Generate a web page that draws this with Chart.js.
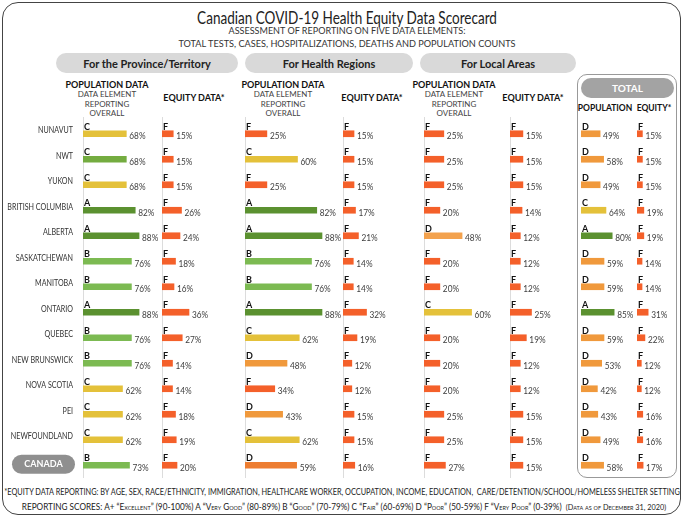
<!DOCTYPE html>
<html>
<head>
<meta charset="utf-8">
<script src="https://cdn.jsdelivr.net/npm/chart.js@4.4.1/dist/chart.umd.min.js"></script>
<style>
  body { margin:0; width:683px; height:518px; background:#fff; position:relative; overflow:hidden;
         font-family: Lato, "Open Sans", sans-serif; color:#222; }
  .a { position:absolute; white-space:nowrap; line-height:1; }
  .ctr { transform: translateX(-50%); transform-origin:center; }
  .frame { position:absolute; left:2px; top:2px; width:677px; height:511px; border:1.5px solid #444; border-radius:16px; }
  .pill { position:absolute; background:#d9d9d9; border-radius:10px; font-weight:bold; font-size:11px;
          display:flex; align-items:center; justify-content:center; color:#222; }
  .h1 { font-weight:bold; font-size:9px; color:#111; }
  .h2 { font-size:8px; color:#444; }
  .totbox { position:absolute; left:577px; top:74px; width:98px; height:402px; border:1px solid #999; border-radius:10px; }
  .totpill { position:absolute; left:581px; top:78px; width:93px; height:20px; background:#a3a3a3; border-radius:10px;
             color:#fff; font-weight:bold; font-size:10px; display:flex; align-items:center; justify-content:center; }
  canvas { position:absolute; top:110px; }
</style>
</head>
<body>
<div class="frame"></div>

<div class="a ctr fit" data-w="300" style="left:347px;top:8px;font-size:18px;color:#222">Canadian COVID-19 Health Equity Data Scorecard</div>
<div class="a ctr fit" data-w="237" style="left:347px;top:26px;font-size:9.5px;color:#333">ASSESSMENT OF REPORTING ON FIVE DATA ELEMENTS:</div>
<div class="a ctr fit" data-w="337" style="left:347px;top:39px;font-size:9.5px;color:#333">TOTAL TESTS, CASES, HOSPITALIZATIONS, DEATHS AND POPULATION COUNTS</div>

<div class="pill" style="left:56px;top:53px;width:182px;height:20px">For the Province/Territory</div>
<div class="pill" style="left:245px;top:53px;width:168px;height:20px">For Health Regions</div>
<div class="pill" style="left:420px;top:53px;width:156px;height:20px">For Local Areas</div>

<div class="a ctr h1" style="left:107px;top:80px">POPULATION DATA</div>
<div class="a ctr h2" style="left:107px;top:90px">DATA ELEMENT</div>
<div class="a ctr h2" style="left:107px;top:99.5px">REPORTING</div>
<div class="a ctr h2" style="left:107px;top:109px">OVERALL</div>
<div class="a ctr h1" style="left:194px;top:93px">EQUITY DATA*</div>

<div class="a ctr h1" style="left:283px;top:80px">POPULATION DATA</div>
<div class="a ctr h2" style="left:283px;top:90px">DATA ELEMENT</div>
<div class="a ctr h2" style="left:283px;top:99.5px">REPORTING</div>
<div class="a ctr h2" style="left:283px;top:109px">OVERALL</div>
<div class="a ctr h1" style="left:372px;top:93px">EQUITY DATA*</div>

<div class="a ctr h1" style="left:454px;top:80px">POPULATION DATA</div>
<div class="a ctr h2" style="left:454px;top:90px">DATA ELEMENT</div>
<div class="a ctr h2" style="left:454px;top:99.5px">REPORTING</div>
<div class="a ctr h2" style="left:454px;top:109px">OVERALL</div>
<div class="a ctr h1" style="left:533px;top:93px">EQUITY DATA*</div>

<div class="totbox"></div>
<div class="totpill">TOTAL</div>
<div class="a ctr h1" style="left:605px;top:104px;font-size:8.5px">POPULATION</div>
<div class="a ctr h1" style="left:654px;top:104px;font-size:8.5px">EQUITY*</div>

<div class="a ctr fit" data-w="676" style="left:342px;top:487px;font-size:9px;color:#222">*EQUITY DATA REPORTING: BY AGE, SEX, RACE/ETHNICITY, IMMIGRATION, HEALTHCARE WORKER, OCCUPATION, INCOME, EDUCATION,&nbsp; CARE/DETENTION/SCHOOL/HOMELESS SHELTER SETTING</div>
<div class="a ctr fit" data-w="644" style="left:344px;top:502px;font-size:9px;color:#222;font-variant:small-caps">REPORTING SCORES: A+ “Excellent” (90-100%) A “Very Good” (80-89%) B “Good” (70-79%) C “Fair” (60-69%) D “Poor” (50-59%) F “Very Poor” (0-39%)&nbsp; <span style="font-size:8px">(Data as of December 31, 2020)</span></div>

<canvas id="c1" width="160" height="380" style="left:0px"></canvas>
<canvas id="c2" width="75" height="380" style="left:162px"></canvas>
<canvas id="c3" width="100" height="380" style="left:245px"></canvas>
<canvas id="c4" width="70" height="380" style="left:343px"></canvas>
<canvas id="c5" width="85" height="380" style="left:424px"></canvas>
<canvas id="c6" width="60" height="380" style="left:510px"></canvas>
<canvas id="c7" width="55" height="380" style="left:581px"></canvas>
<canvas id="c8" width="40" height="380" style="left:637px"></canvas>

<script>
const rows = ['NUNAVUT', 'NWT', 'YUKON', 'BRITISH COLUMBIA', 'ALBERTA', 'SASKATCHEWAN', 'MANITOBA',
  'ONTARIO', 'QUEBEC', 'NEW BRUNSWICK', 'NOVA SCOTIA', 'PEI', 'NEWFOUNDLAND', 'CANADA'];

// province / territory
const provPop      = [68, 68, 68, 82, 88, 76, 76, 88, 76, 76, 62, 62, 62, 73];
const provPopGrade = ['C', 'C', 'C', 'A', 'A', 'B', 'B', 'A', 'B', 'B', 'C', 'C', 'C', 'B'];
const provEq       = [15, 15, 15, 26, 24, 18, 16, 36, 27, 14, 14, 18, 19, 20];
const provEqGrade  = ['F', 'F', 'F', 'F', 'F', 'F', 'F', 'F', 'F', 'F', 'F', 'F', 'F', 'F'];

// health regions
const hrPop      = [25, 60, 25, 82, 88, 76, 76, 88, 62, 48, 34, 43, 62, 59];
const hrPopGrade = ['F', 'C', 'F', 'A', 'A', 'B', 'B', 'A', 'C', 'D', 'F', 'D', 'C', 'D'];
const hrEq       = [15, 15, 15, 17, 21, 14, 14, 32, 19, 12, 12, 15, 15, 16];
const hrEqGrade  = ['F', 'F', 'F', 'F', 'F', 'F', 'F', 'F', 'F', 'F', 'F', 'F', 'F', 'F'];

// local areas
const locPop      = [25, 25, 25, 20, 48, 20, 20, 60, 20, 20, 20, 25, 25, 27];
const locPopGrade = ['F', 'F', 'F', 'F', 'D', 'F', 'F', 'C', 'F', 'F', 'F', 'F', 'F', 'F'];
const locEq       = [15, 15, 15, 14, 12, 12, 12, 25, 19, 12, 12, 15, 15, 15];
const locEqGrade  = ['F', 'F', 'F', 'F', 'F', 'F', 'F', 'F', 'F', 'F', 'F', 'F', 'F', 'F'];

// total
const totPop      = [49, 58, 49, 64, 80, 59, 59, 85, 59, 53, 42, 43, 49, 58];
const totPopGrade = ['D', 'D', 'D', 'C', 'A', 'D', 'D', 'A', 'D', 'D', 'D', 'D', 'D', 'D'];
const totEq       = [15, 15, 15, 19, 19, 14, 14, 31, 22, 12, 12, 16, 16, 17];
const totEqGrade  = ['F', 'F', 'F', 'F', 'F', 'F', 'F', 'F', 'F', 'F', 'F', 'F', 'F', 'F'];

const gradeColors = { A: '#5b9130', B: '#7cba52', C: '#e4c13a', D: '#f0993c', F: '#f4602a' };

// px per percent for each column
const columns = [
  { id: 'c1', pad: 83, ppp: 0.637, values: provPop, grades: provPopGrade, rowLabels: true, line: true, fix: { 1: '#74ac40' } },
  { id: 'c2', pad: 0, ppp: 0.75, values: provEq, grades: provEqGrade, line: true },
  { id: 'c3', pad: 0, ppp: 0.875, values: hrPop, grades: hrPopGrade, line: true, fix: { 13: '#ed7d31' } },
  { id: 'c4', pad: 0, ppp: 0.735, values: hrEq, grades: hrEqGrade, line: true },
  { id: 'c5', pad: 0, ppp: 0.793, values: locPop, grades: locPopGrade, line: true, fix: { 4: '#f3a24e' } },
  { id: 'c6', pad: 0, ppp: 0.86, values: locEq, grades: locEqGrade, line: true },
  { id: 'c7', pad: 0, ppp: 0.39, values: totPop, grades: totPopGrade },
  { id: 'c8', pad: 0, ppp: 0.36, values: totEq, grades: totEqGrade },
];

// narrow text, the reference uses a condensed face
function squeezed(ctx, text, x, y, sx) {
  ctx.save();
  ctx.translate(x, y);
  ctx.scale(sx, 1);
  ctx.fillText(text, 0, 0);
  ctx.restore();
}

function marks(col) {
  return {
    id: 'marks',
    beforeDatasetsDraw(chart) {
      if (!col.line) return;
      const { ctx, chartArea } = chart;
      ctx.save();
      ctx.strokeStyle = '#dcdcdc';
      ctx.lineWidth = 1;
      ctx.beginPath();
      ctx.moveTo(chartArea.left + 0.5, chartArea.top - 4);
      ctx.lineTo(chartArea.left + 0.5, chartArea.bottom);
      ctx.stroke();
      ctx.restore();
    },
    afterDatasetsDraw(chart) {
      const ctx = chart.ctx;
      const bars = chart.getDatasetMeta(0).data;
      ctx.save();
      bars.forEach((b, i) => {
        ctx.textAlign = 'left';
        ctx.textBaseline = 'alphabetic';
        ctx.fillStyle = '#111';
        ctx.font = 'bold 9px Lato, sans-serif';
        ctx.fillText(col.grades[i], b.base + 1, b.y - 4);
        ctx.textBaseline = 'middle';
        ctx.fillStyle = '#404040';
        ctx.font = '9px Lato, sans-serif';
        squeezed(ctx, col.values[i] + '%', b.x + 3, b.y + 2.5, 0.92);
        if (col.rowLabels) {
          if (i === rows.length - 1) {
            ctx.fillStyle = '#8f8f8f';
            ctx.beginPath();
            ctx.roundRect(12, b.y - 10.5, 63, 19, 9.5);
            ctx.fill();
            ctx.fillStyle = '#fff';
            ctx.font = 'bold 9px Lato, sans-serif';
            ctx.textAlign = 'center';
            ctx.fillText(rows[i], 43.5, b.y - 1);
          } else {
            ctx.fillStyle = '#333';
            ctx.font = '8.5px Lato, sans-serif';
            ctx.textAlign = 'right';
            squeezed(ctx, rows[i], 73, b.y - 3, 0.84);
          }
        }
      });
      ctx.restore();
    }
  };
}

columns.forEach(col => {
  const cv = document.getElementById(col.id);
  const fix = col.fix || {};
  new Chart(cv, {
    type: 'bar',
    data: {
      labels: rows,
      datasets: [{
        data: col.values,
        backgroundColor: col.values.map((v, i) => fix[i] || gradeColors[col.grades[i]]),
        barThickness: 6,
        borderWidth: 0
      }]
    },
    options: {
      indexAxis: 'y',
      responsive: false,
      animation: false,
      events: [],
      layout: { padding: { left: col.pad, right: 0, top: 11, bottom: 12 } },
      plugins: { legend: { display: false }, tooltip: { enabled: false } },
      scales: {
        x: { display: false, min: 0, max: (cv.width - col.pad) / col.ppp },
        y: { display: false }
      }
    },
    plugins: [marks(col)]
  });
});

// squeeze the wide text lines to the widths measured on the reference
document.querySelectorAll('.fit').forEach(el => {
  const k = Number(el.dataset.w) / el.offsetWidth;
  el.style.transform = 'translateX(-50%) scaleX(' + k.toFixed(3) + ')';
});
</script>
</body>
</html>
